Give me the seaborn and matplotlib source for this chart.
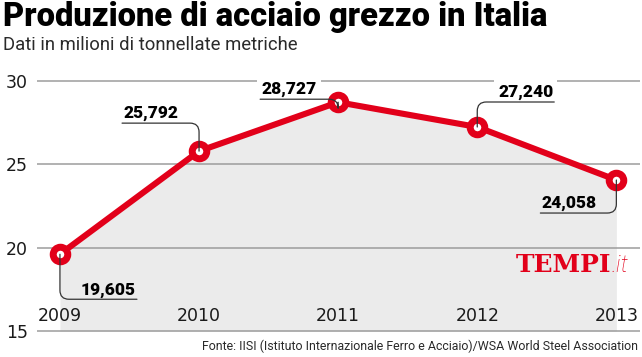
import numpy as np
import pandas as pd
import matplotlib
matplotlib.use("Agg")
import matplotlib.pyplot as plt
import seaborn as sns

# data (million tonnes)
years = [2009, 2010, 2011, 2012, 2013]
production = [19.605, 25.792, 28.727, 27.240, 24.058]
y_ticks = [15, 20, 25, 30]

title = "Produzione di acciaio grezzo in Italia"
subtitle = "Dati in milioni di tonnellate metriche"
source = "Fonte: IISI (Istituto Internazionale Ferro e Acciaio)/WSA World Steel Association"

# callout layout: end of the underline relative to the marker, in pixels (y up)
callout_offsets = [(77, -45), (-77, 28), (-78, 3), (77, 25), (-76, -33)]
callout_masked = [False, False, True, True, False]

RED = "#E2001A"
FILL = "#EBEBEB"
GRID = "#9C9C9C"
INK = "#1A1A1A"

df = pd.DataFrame({"anno": years, "produzione": production})

sns.set_theme(style="white")
plt.rcParams["font.family"] = ["DejaVu Sans"]

fig = plt.figure(figsize=(6.42, 3.57), dpi=100)
ax = fig.add_axes([37 / 642, 24 / 357, 603 / 642, 258 / 357])

ax.fill_between(df["anno"], df["produzione"], y_ticks[0], color=FILL, lw=0, zorder=1)
sns.lineplot(data=df, x="anno", y="produzione", ax=ax, color=RED, lw=4.4,
             marker="o", markersize=10.5, markeredgewidth=5.0,
             markerfacecolor="white", markeredgecolor=RED, zorder=4)

ax.set_xlim(2008.835, 2013.17)
ax.set_ylim(14.88, 30.36)
ax.set_yticks(y_ticks)
ax.set_xticks(years)
ax.set_xticklabels([str(y) for y in years])
ax.set_xlabel("")
ax.set_ylabel("")
for s in ax.spines.values():
    s.set_visible(False)
ax.set_axisbelow(False)
ax.yaxis.grid(True, color=GRID, lw=1.1, zorder=2.5)
ax.xaxis.grid(False)
ax.tick_params(axis="y", length=0, pad=6.5, labelsize=12.5, labelcolor=INK)
ax.tick_params(axis="x", length=0, pad=-19, labelsize=12.5, labelcolor=INK)

# value callouts
for yr, val, (dx, dy), masked in zip(years, production, callout_offsets, callout_masked):
    ax.annotate("", xy=(yr, val), xytext=(dx, dy), textcoords="offset pixels",
                arrowprops=dict(arrowstyle="-", color="#333333", lw=0.9,
                                shrinkA=0, shrinkB=0,
                                connectionstyle="angle,angleA=0,angleB=90,rad=9"),
                zorder=6)
    label = f"{val:.3f}".replace(".", ",")
    ha = "left" if dx < 0 else "right"
    bbox = dict(facecolor="white", edgecolor="none", pad=3) if masked else None
    ax.annotate(label, xy=(yr, val), xytext=(dx + (1 if dx < 0 else -1), dy + 5),
                textcoords="offset pixels", ha=ha, va="baseline",
                fontsize=12.5, fontweight="black", family=["Roboto", "DejaVu Sans"],
                color="black", bbox=bbox, zorder=3)


def fit_width(t, target_px):
    r = fig.canvas.get_renderer()
    for _ in range(3):
        w = t.get_window_extent(r).width
        t.set_fontsize(t.get_fontsize() * target_px / w)


fams = ["Liberation Sans Narrow", "Roboto", "DejaVu Sans"]
t_title = fig.text(3 / 642, 1 - 26 / 357, title, fontsize=22, fontweight="black",
                   family=fams, color="black", va="baseline", ha="left")
t_sub = fig.text(3 / 642, 1 - 50 / 357, subtitle, fontsize=12, fontweight="normal",
                 family=fams, color="#2a2a2a", va="baseline", ha="left")
t_src = fig.text(638 / 642, 1 - 350 / 357, source, fontsize=9, fontweight="normal",
                 family=fams, color="#2a2a2a", va="baseline", ha="right")
fig.canvas.draw()
fit_width(t_title, 545)
fit_width(t_sub, 295)
fit_width(t_src, 435)

# logo
fig.text(611 / 642, 1 - 272 / 357, "TEMPI", fontsize=18, fontweight="bold",
         family="DejaVu Serif", color=RED, va="baseline", ha="right")
fig.text(611 / 642, 1 - 272 / 357, ".it", fontsize=17, style="italic", fontweight="light",
         family=["Roboto", "DejaVu Sans"], color=RED, va="baseline", ha="left")

fig.savefig("out.png", dpi=100)
